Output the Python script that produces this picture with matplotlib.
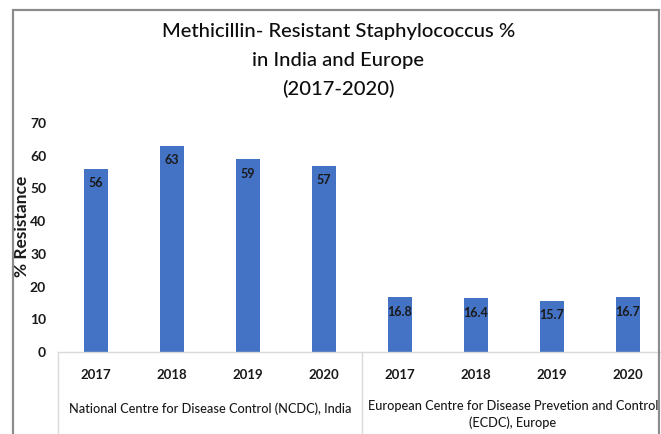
import matplotlib
matplotlib.use("Agg")
import matplotlib.pyplot as plt
from matplotlib.patches import Rectangle
import matplotlib.transforms as mtransforms

plt.rcParams['font.family'] = ['Lato', 'DejaVu Sans']

years = ["2017", "2018", "2019", "2020", "2017", "2018", "2019", "2020"]
values = [56, 63, 59, 57, 16.8, 16.4, 15.7, 16.7]
value_labels = ["56", "63", "59", "57", "16.8", "16.4", "15.7", "16.7"]
groups = ["National Centre for Disease Control (NCDC), India",
          "European Centre for Disease Prevetion and Control\n(ECDC), Europe"]
yticks = [0, 10, 20, 30, 40, 50, 60, 70]
title_lines = ["Methicillin- Resistant Staphylococcus %",
               "in India and Europe",
               "(2017-2020)"]

W, H = 661, 434
fig = plt.figure(figsize=(W / 100, H / 100), dpi=100)
fig.patch.set_facecolor("white")

# outer chart frame (bottom edge runs past the canvas)
fig.add_artist(Rectangle((12.5 / W, -0.1), (659 - 12.5) / W, 1.1 - 10 / H,
                         transform=fig.transFigure, fill=False,
                         edgecolor="#8c8c8c", linewidth=1.6, zorder=10))

ax = fig.add_axes([58 / W, (H - 352) / H, 608 / W, (352 - 123) / H])
xs = list(range(len(values)))
ax.bar(xs, values, width=0.32, color="#4472C4", zorder=2)

for x, v, lab in zip(xs, values, value_labels):
    ax.annotate(lab, (x, v), xytext=(0, -10.5), textcoords="offset points",
                ha="center", va="center", fontsize=9, fontweight="bold",
                color="#1a1a1a", zorder=3)

ax.set_xlim(-0.5, len(values) - 0.5)
ax.set_ylim(0, 70)
ax.set_yticks(yticks)
ax.set_yticklabels([str(t) for t in yticks], fontsize=10, fontweight="bold")
ax.set_xticks(xs)
ax.set_xticklabels(years, fontsize=9.5, fontweight="bold")
ax.tick_params(axis="both", length=0, colors="#1a1a1a")
ax.tick_params(axis="y", pad=8.5)
ax.tick_params(axis="x", pad=12)
for side in ["top", "right", "left"]:
    ax.spines[side].set_visible(False)
ax.spines["bottom"].set_color("#d9d9d9")
ax.spines["bottom"].set_linewidth(1.0)

fig.text(22 / W, 1 - 226 / H, "% Resistance", rotation=90, ha="center",
         va="center", fontsize=12.5, fontweight="bold", color="#1a1a1a")

# multi-level category axis: group separators and group names
trans = mtransforms.blended_transform_factory(ax.transData, ax.transAxes)
for xb in [-0.5, 3.5, 7.5]:
    ax.plot([xb, xb], [0, -0.5], transform=trans, color="#d9d9d9",
            linewidth=1.0, clip_on=False)
fig.text(210 / W, 1 - 409 / H, groups[0], ha="center", va="center",
         fontsize=9.2, fontweight="medium", color="#1a1a1a")
fig.text(513 / W, 1 - 400 / H, groups[1], ha="center", va="top",
         fontsize=9.2, fontweight="medium", color="#1a1a1a", linespacing=1.45)

for line, base in zip(title_lines, [37, 66, 95]):
    fig.text(338.5 / W, 1 - base / H, line, ha="center", va="baseline",
             fontsize=14.6, fontweight="medium", color="#0d0d0d")

fig.savefig("out.png", dpi=100)
